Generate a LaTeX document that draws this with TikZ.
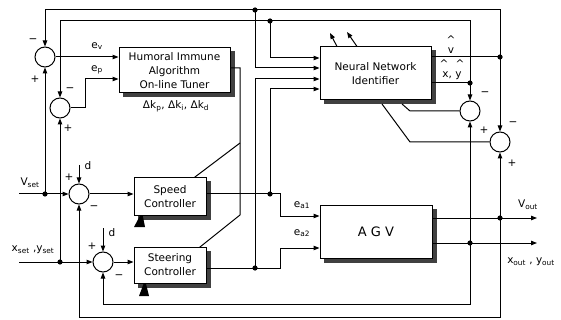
\documentclass[tikz,border=0pt]{standalone}
\usepackage{fontspec}
\setmainfont{DejaVu Sans}
\usetikzlibrary{arrows.meta,calc}
\pgfdeclarelayer{bg}
\pgfsetlayers{bg,main}
\begin{document}
\begin{tikzpicture}[x=1pt,y=-1pt,
  font=\fontsize{10.5}{12}\selectfont,
  ln/.style={line width=1pt},
  arr/.style={line width=1pt,-{Triangle[length=6pt,width=4.5pt]}},
  sumc/.style={circle,draw,line width=1pt,minimum size=20pt,inner sep=0pt},
  blk/.style={draw,line width=1pt,fill=white,align=center,inner sep=1pt,
    font=\fontsize{10.5}{14}\selectfont},
  shad/.style={fill=black!75},
  lbl/.style={inner sep=0pt,align=center}]
\begin{pgfonlayer}{bg}
\fill[white] (0,0) rectangle (561,320);
\end{pgfonlayer}
\useasboundingbox (0,0) rectangle (561,320);

% summing junctions
\node[sumc] (c1) at (45,57) {};
\node[sumc] (c2) at (60,108) {};
\node[sumc] (c3) at (79,194) {};
\node[sumc] (c4) at (103,262) {};
\node[sumc] (cA) at (470,111) {};
\node[sumc] (cB) at (500,142) {};

% humoral box and NN box
\node[blk,minimum width=111pt,minimum height=45pt] (hum) at (174.5,70.5) {Humoral Immune\\Algorithm\\On-line Tuner};
\node[blk,minimum width=111pt,minimum height=53pt] (nn) at (375.5,73.5) {Neural Network\\Identifier};

% adjustment lines through controllers (drawn before the boxes)
\coordinate (hr) at (240,68);
\coordinate (adjA) at (240,143);
\coordinate (adjB) at (240,215);
\coordinate (adjAe) at (150,211);
\coordinate (adjBe) at (155,283);
\draw[ln] (hum.east |- hr) -- (hr) -- (adjB) -- (adjBe);
\draw[ln] (adjA) -- (adjAe);
\fill (134,227) -- (145,227) -- (142,212) -- cycle;
\fill (139,296) -- (149,296) -- (145,280) -- cycle;

% controllers and AGV
\node[blk,minimum width=72pt,minimum height=37pt] (sp) at (170,196.5) {Speed\\Controller};
\node[blk,minimum width=72pt,minimum height=36pt] (st) at (170,265) {Steering\\Controller};
\node[blk,minimum width=112pt,minimum height=53pt,font=\fontsize{13}{15}\selectfont] (agv) at (376,231.5) {A G V};

% shadows
\begin{pgfonlayer}{bg}
\foreach \b in {hum,nn,sp,st,agv}
  \fill[shad] ([shift={(4pt,-4pt)}]\b.south west) rectangle ([shift={(4pt,-4pt)}]\b.north east);
\end{pgfonlayer}

% named points
\coordinate (t1L) at (45,10);  \coordinate (t1R) at (500,10);
\coordinate (t2L) at (60,21);  \coordinate (t2R) at (470,21);
\coordinate (d1) at (255,10);  \coordinate (d2) at (270,21);
\coordinate (dv) at (500,57);  \coordinate (dxy) at (470,83);
\coordinate (dvo) at (500,218); \coordinate (dxo) at (470,243);
\coordinate (dvs) at (45,194); \coordinate (dxs) at (60,262);
\coordinate (dsp) at (270,194); \coordinate (dst) at (255,268);
\coordinate (nn1) at ([yshift=15.5pt]nn.west);
\coordinate (nn2) at ([yshift=5.5pt]nn.west);
\coordinate (nn3) at ([yshift=-5.5pt]nn.west);
\coordinate (nn4) at ([yshift=-15.5pt]nn.west);
\coordinate (ep) at (85,79);
\coordinate (ea1) at (280,216);
\coordinate (ea2) at (280,248);
\coordinate (vo) at (537,218);
\coordinate (xo) at (537,243);
\coordinate (vs) at (19,194);
\coordinate (xs) at (19,262);
\coordinate (dd1) at (79,165);
\coordinate (dd2) at (103,228);
\coordinate (fb1) at (470,304);
\coordinate (fb2) at (500,317);
\coordinate (eA1) at (410,111);
\coordinate (eA2) at (402,104);
\coordinate (eB1) at (410,142);
\coordinate (eB2) at (382,104);
\coordinate (up1s) at ([xshift=-38.5pt]nn.north);
\coordinate (up1e) at (330,33);
\coordinate (up2s) at ([xshift=-18.5pt]nn.north);
\coordinate (up2e) at (347,32);

% top feedback loops
\draw[arr] (dv) -- (t1R) -- (t1L) -- (c1.north);
\draw[arr] (dv) -- (cB.north);
\draw[arr] (dxy) -- (t2R) -- (t2L) -- (c2.north);
\draw[arr] (dxy) -- (cA.north);
\draw[ln] (nn.east |- dv) -- (dv);
\draw[ln] (nn.east |- dxy) -- (dxy);

% NN inputs
\draw[arr] (d1) |- (nn2);
\draw[arr] (d2) |- (nn1);
\draw[arr] (dsp) |- (nn4);
\draw[arr] (dst) |- (nn3);
\draw[arr] (up1s) -- (up1e);
\draw[arr] (up2s) -- (up2e);

% errors into humoral
\draw[arr] (c1.east) -- (c1 -| hum.west);
\draw[arr] (c2.east) -| (ep) -- (ep -| hum.west);

% set points
\draw[arr] (vs) -- (c3.west);
\draw[arr] (xs) -- (c4.west);
\draw[arr] (dvs) -- (c1.south);
\draw[arr] (dxs) -- (c2.south);
\draw[arr] (dd1) -- (c3.north);
\draw[arr] (dd2) -- (c4.north);
\draw[arr] (c3.east) -- (c3 -| sp.west);
\draw[arr] (c4.east) -- (c4 -| st.west);

% controller outputs
\draw[arr] (sp.east |- dsp) -| (ea1) -- (ea1 -| agv.west);
\draw[arr] (st.east |- dst) -| (ea2) -- (ea2 -| agv.west);

% AGV outputs
\draw[arr] (agv.east |- vo) -- (vo);
\draw[arr] (agv.east |- xo) -- (xo);

% output feedback
\draw[arr] (dxo) -- (cA.south);
\draw[arr] (dvo) -- (cB.south);
\draw[arr] (dxo) -- (fb1) -| (c4.south);
\draw[arr] (dvo) -- (fb2) -| (c3.south);

% identification errors
\draw[ln] (cA.west) -- (eA1) -- (eA2);
\draw[ln] (cB.west) -- (eB1) -- (eB2);

% dots
\foreach \p in {d1,d2,dv,dxy,dvo,dxo,dvs,dxs,dsp,dst}
  \fill (\p) circle (2.6pt);

% labels
\node[lbl] (lev) at (97,46) {e\textsubscript{v}};
\node[lbl] (lep) at (97,70) {e\textsubscript{p}};
\node[lbl] (ldk) at (176,106) {Δk\textsubscript{p}, Δk\textsubscript{i}, Δk\textsubscript{d}};
\node[lbl] (lea1) at (302,205) {e\textsubscript{a1}};
\node[lbl] (lea2) at (302,233) {e\textsubscript{a2}};
\node[lbl] (lvs) at (30,183) {V\textsubscript{set}};
\node[lbl] (lxs) at (33,250) {x\textsubscript{set} ,y\textsubscript{set}};
\node[lbl] (lvo) at (528,205) {V\textsubscript{out}};
\node[lbl] (lxo) at (531,262) {x\textsubscript{out} , y\textsubscript{out}};
\node[lbl] (hv) at (451,40) {\textasciicircum};
\node[lbl] (lvh) at (451,51) {v};
\node[lbl] (hx) at (444,64) {\textasciicircum};
\node[lbl] (hy) at (460,64) {\textasciicircum};
\node[lbl] (lxh) at (452,76) {x, y};
\node[lbl] (ld1) at (88,166) {d};
\node[lbl] (ld2) at (112,233) {d};

% signs
\node[lbl] at (33,41) {−};
\node[lbl] at (35,79) {+};
\node[lbl] at (70,90) {−};
\node[lbl] at (68,128) {+};
\node[lbl] at (69,177) {+};
\node[lbl] at (94,208) {−};
\node[lbl] at (92,246) {+};
\node[lbl] at (119,277) {−};
\node[lbl] at (485,94) {−};
\node[lbl] at (484,130) {+};
\node[lbl] at (513,124) {−};
\node[lbl] at (512,163) {+};
\end{tikzpicture}
\end{document}
